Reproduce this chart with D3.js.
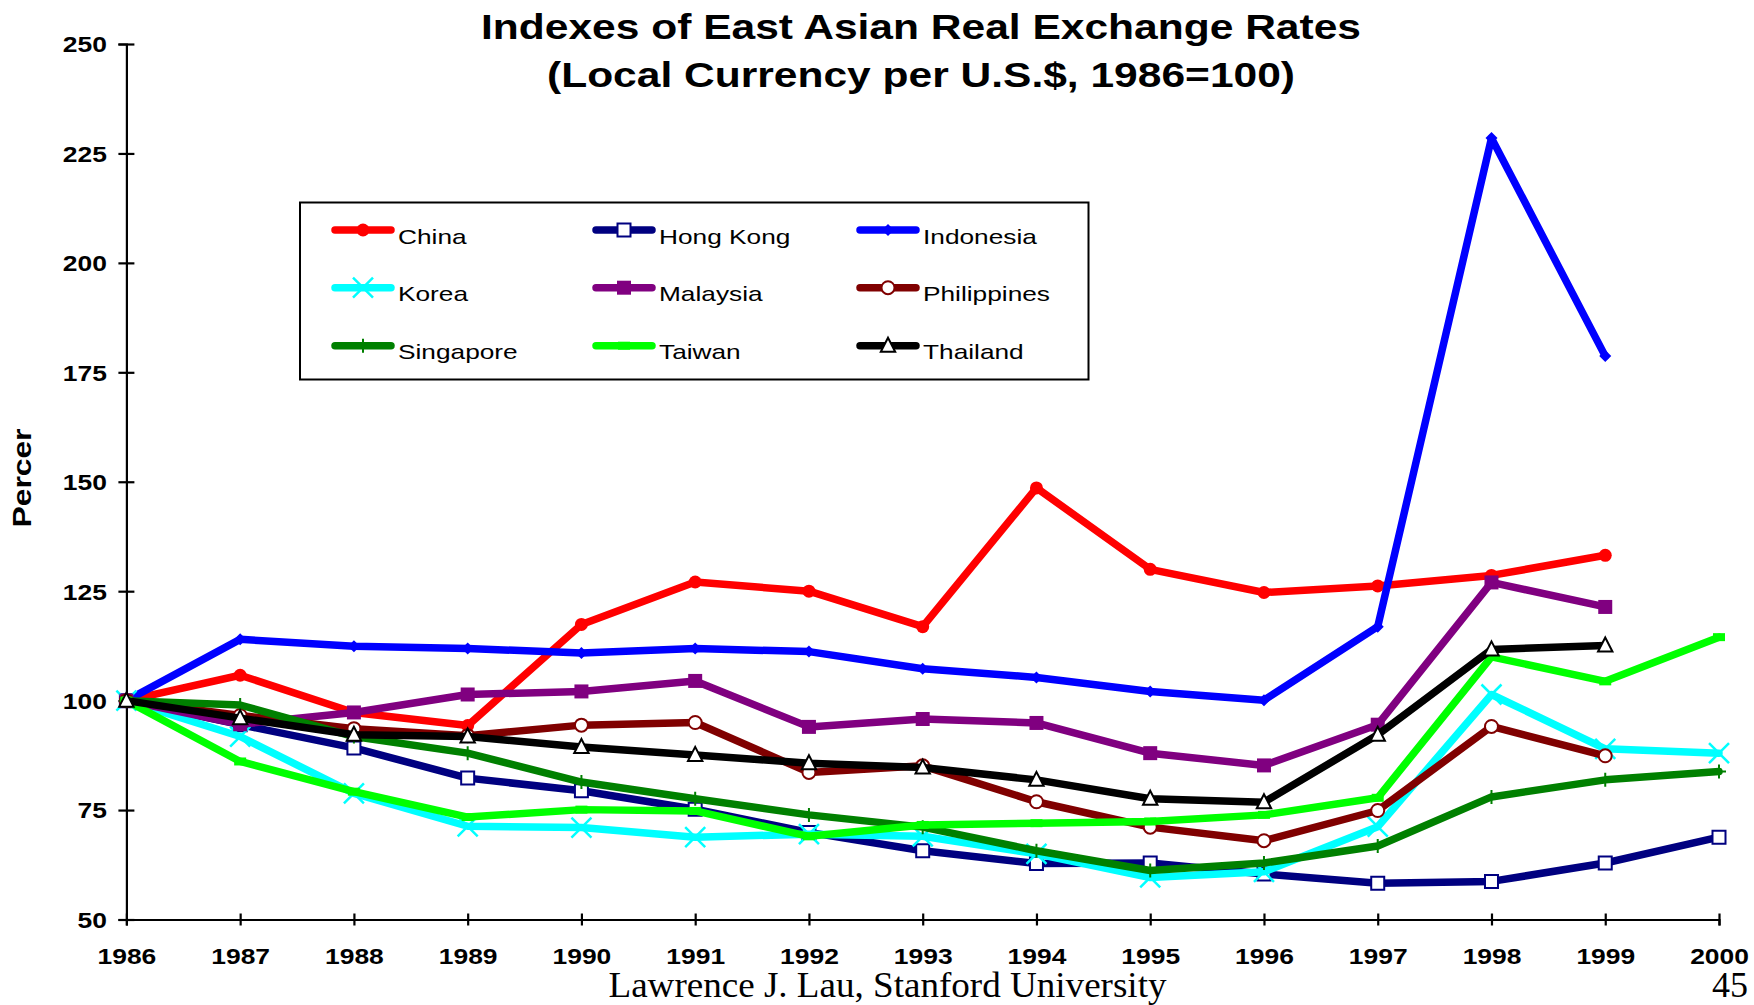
<!DOCTYPE html>
<html><head><meta charset="utf-8">
<script src="https://cdn.jsdelivr.net/npm/d3@7"></script>
<style>
body{margin:0;background:#fff}
svg{display:block}
</style>
</head><body>
<svg id="chart" width="1754" height="1005"></svg>
<script>
// ---------- data ----------
const years = [1986,1987,1988,1989,1990,1991,1992,1993,1994,1995,1996,1997,1998,1999,2000];
const china       = [100,105.8,97.3,94.3,117.4,127.1,125.0,116.9,148.6,130.0,124.7,126.2,128.6,133.2];
const hongKong    = [100,94.5,89.2,82.3,79.4,75.2,69.9,65.7,62.8,62.9,60.4,58.3,58.7,62.9,68.8];
const indonesia   = [100,114.0,112.4,111.9,110.9,111.9,111.2,107.3,105.3,102.1,100.1,116.9,228.5,178.7];
const korea       = [100,91.8,78.8,71.3,71.0,68.8,69.5,69.0,65.0,59.6,60.9,71.2,101.4,89.0,88.0];
const malaysia    = [100,94.6,97.3,101.4,102.1,104.5,94.0,95.8,94.9,88.0,85.2,94.5,127.0,121.4];
const philippines = [100,96.6,93.6,92.0,94.4,95.0,83.6,85.1,76.9,71.1,68.0,74.9,94.1,87.4];
const singapore   = [100,99.0,91.8,88.0,81.4,77.6,73.9,71.1,65.7,61.2,62.9,66.8,78.0,81.9,83.8];
const taiwan      = [100,86.1,79.2,73.4,75.1,74.8,69.0,71.6,72.0,72.4,73.9,77.8,110.0,104.4,114.5];
const thailand    = [100,96.0,92.2,91.8,89.4,87.6,85.7,84.7,81.9,77.6,76.8,92.2,111.7,112.6];
const seriesNames = ["China","Hong Kong","Indonesia","Korea","Malaysia","Philippines","Singapore","Taiwan","Thailand"];
const seriesValues = [china,hongKong,indonesia,korea,malaysia,philippines,singapore,taiwan,thailand];
const yTickValues = [50,75,100,125,150,175,200,225,250];
const titleLines = ["Indexes of East Asian Real Exchange Rates","(Local Currency per U.S.$, 1986=100)"];
const yAxisLabel = "Percer";
const footerText = "Lawrence J. Lau, Stanford University";
const pageNumber = "45";

// ---------- styles ----------
const styles = {
  "China":       {color:"#FF0000", marker:"circle",   fill:"#FF0000", ms:6.5},
  "Hong Kong":   {color:"#000080", marker:"square",   fill:"#FFFFFF", ms:6.5},
  "Indonesia":   {color:"#0000FF", marker:"diamond",  fill:"#0000FF", ms:6},
  "Korea":       {color:"#00FFFF", marker:"times",    fill:"none",    ms:10},
  "Malaysia":    {color:"#800080", marker:"square",   fill:"#800080", ms:7},
  "Philippines": {color:"#800000", marker:"circle",   fill:"#FFFFFF", ms:6.5},
  "Singapore":   {color:"#008000", marker:"plus",     fill:"none",    ms:7},
  "Taiwan":      {color:"#00FF00", marker:"dash",     fill:"#00FF00", ms:5},
  "Thailand":    {color:"#000000", marker:"triangle", fill:"#FFFFFF", ms:8}
};
function markerPath(type, h){
  switch(type){
    case "circle": return `M${h},0A${h},${h} 0 1,1 ${-h},0A${h},${h} 0 1,1 ${h},0Z`;
    case "square": return `M${-h},${-h}H${h}V${h}H${-h}Z`;
    case "diamond": return `M0,${-h}L${h},0L0,${h}L${-h},0Z`;
    case "triangle": return `M0,${-h}L${h*0.9},${h*0.75}L${-h*0.9},${h*0.75}Z`;
    case "times": return `M${-h},${-h}L${h},${h}M${-h},${h}L${h},${-h}`;
    case "plus": return `M0,${-h}V${h}M${-h},0H${h}`;
    case "dash": return `M${-h*1.2},${-h*0.8}H${h*1.2}V${h*0.8}H${-h*1.2}Z`;
  }
}

const svg = d3.select("#chart");
const x = d3.scaleLinear().domain([1986,2000]).range([126.4,1719]);
const y = d3.scaleLinear().domain([50,250]).range([919.5,44]);

function stretch(sel, f){
  sel.each(function(){
    const w = this.getComputedTextLength();
    this.setAttribute("textLength", w*f);
    this.setAttribute("lengthAdjust","spacingAndGlyphs");
  });
}

// ---------- axes ----------
const yAxis = svg.append("g").attr("transform","translate(126.4,0)")
  .call(d3.axisLeft(y).tickValues(yTickValues).tickSizeOuter(0).tickSize(8));
yAxis.select(".domain").attr("stroke","#000").attr("stroke-width",2.2);
yAxis.selectAll(".tick line").attr("x1",-8).attr("x2",8).attr("stroke","#000").attr("stroke-width",2.2);
yAxis.selectAll(".tick text").attr("x",-19.5).attr("dy","0.36em")
  .attr("fill","#000").style("font-family","'Liberation Sans',Arial,sans-serif")
  .style("font-size","22px").style("font-weight","bold");
stretch(yAxis.selectAll(".tick text"),1.2);

const xAxis = svg.append("g").attr("transform","translate(0,919.5)")
  .call(d3.axisBottom(x).tickValues(years).tickFormat(d3.format("d")).tickSizeOuter(0).tickSize(6));
xAxis.select(".domain").attr("stroke","#000").attr("stroke-width",2.2);
xAxis.selectAll(".tick line").attr("y1",-6).attr("y2",6).attr("stroke","#000").attr("stroke-width",2.2);
xAxis.selectAll(".tick text").attr("y",44.5).attr("dy","0")
  .attr("fill","#000").style("font-family","'Liberation Sans',Arial,sans-serif")
  .style("font-size","22px").style("font-weight","bold");
stretch(xAxis.selectAll(".tick text"),1.2);

// ---------- series ----------
const series = seriesNames.map((n,i)=>({name:n, values:seriesValues[i].map((v,j)=>({year:years[j], v}))}));
const line = d3.line().x(d=>x(d.year)).y(d=>y(d.v));
const plot = svg.append("g");
series.forEach(s=>{
  const st = styles[s.name];
  const g = plot.append("g");
  g.append("path").datum(s.values).attr("d",line)
    .attr("fill","none").attr("stroke",st.color).attr("stroke-width",7.5)
    .attr("stroke-linejoin","round").attr("stroke-linecap","round");
  g.selectAll("path.m").data(s.values).enter().append("path").attr("class","m")
    .attr("transform",d=>`translate(${x(d.year)},${y(d.v)})`)
    .attr("d",markerPath(st.marker, st.ms))
    .attr("fill",st.fill)
    .attr("stroke",st.marker==="dash"||st.marker==="diamond"||(st.fill===st.color)?"none":st.color)
    .attr("stroke-width",st.marker==="times"?2.5:2);
});

// ---------- legend ----------
const leg = svg.append("g");
leg.append("rect").attr("x",300).attr("y",202.5).attr("width",788.5).attr("height",177)
  .attr("fill","#fff").attr("stroke","#000").attr("stroke-width",2);
const colX = [332,593,857];
const rowY = [230,287.7,345.7];
seriesNames.forEach((n,i)=>{
  const st = styles[n];
  const cx = colX[i%3], cy = rowY[Math.floor(i/3)];
  leg.append("line").attr("x1",cx+3).attr("x2",cx+59).attr("y1",cy).attr("y2",cy)
    .attr("stroke",st.color).attr("stroke-width",7.5).attr("stroke-linecap","round");
  leg.append("path").attr("transform",`translate(${cx+31},${cy})`)
    .attr("d",markerPath(st.marker, st.ms))
    .attr("fill",st.fill)
    .attr("stroke",st.marker==="dash"||st.marker==="diamond"||(st.fill===st.color)?"none":st.color)
    .attr("stroke-width",st.marker==="times"?2.5:2);
  leg.append("text").attr("x",cx+66).attr("y",cy+13.5).text(n)
    .style("font-family","'Liberation Sans',Arial,sans-serif").style("font-size","21px").attr("fill","#000");
});
stretch(leg.selectAll("text"),1.25);

// ---------- titles ----------
const titleWidths = [880,748];
titleLines.forEach((t,i)=>{
  svg.append("text").attr("x",921).attr("y",[39,87][i]).attr("text-anchor","middle")
    .style("font-family","'Liberation Sans',Arial,sans-serif").style("font-size","35px").style("font-weight","bold")
    .attr("textLength",titleWidths[i]).attr("lengthAdjust","spacingAndGlyphs").text(t);
});
svg.append("text").attr("transform","translate(31,478) rotate(-90)").attr("text-anchor","middle")
  .style("font-family","'Liberation Sans',Arial,sans-serif").style("font-size","25px").style("font-weight","bold")
  .attr("textLength",99).attr("lengthAdjust","spacingAndGlyphs").text(yAxisLabel);
svg.append("text").attr("x",608.5).attr("y",997)
  .style("font-family","'Liberation Serif','Times New Roman',serif").style("font-size","35px")
  .attr("textLength",558).attr("lengthAdjust","spacingAndGlyphs").text(footerText);
svg.append("text").attr("x",1748).attr("y",997).attr("text-anchor","end")
  .style("font-family","'Liberation Serif','Times New Roman',serif").style("font-size","36px").text(pageNumber);
</script>
</body></html>
